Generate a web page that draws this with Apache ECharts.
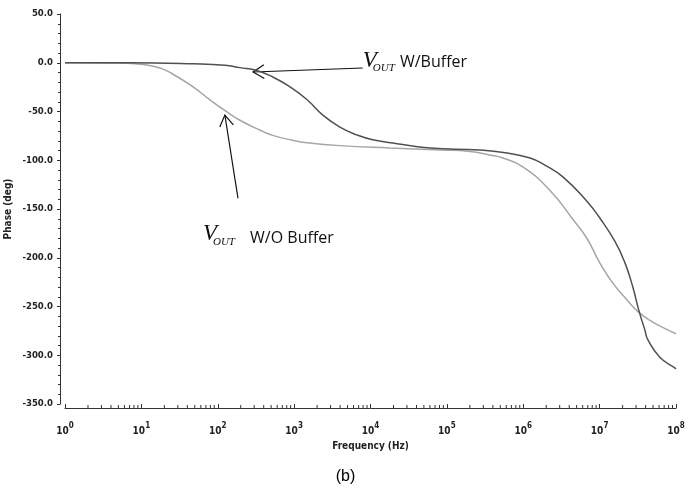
<!DOCTYPE html>
<html>
<head>
<meta charset="utf-8">
<script src="https://cdn.jsdelivr.net/npm/echarts@6/dist/echarts.min.js"></script>
<style>
html,body{margin:0;padding:0;background:#fff;}
#chart{width:691px;height:490px;}
</style>
</head>
<body>
<div id="chart"></div>
<script>
// Frequency (Hz) and phase (deg) samples
const bufFreq = [1, 6.5, 48, 124, 195, 309, 525, 890, 1480, 2400, 3980, 6610, 10700, 22200, 60000, 269000, 616000, 1.23e6, 1.92e6, 3.3e6, 6.8e6, 1.0e7, 1.58e7, 2.14e7, 2.72e7, 3.26e7, 3.91e7, 4.28e7, 6.14e7, 9.64e7, 1e8];
const bufPhase = [0, 0, -1, -2.5, -5, -7.5, -14.6, -25, -38, -54, -66, -74, -79, -83, -87.5, -89.5, -92.6, -97.7, -105, -117, -142, -159, -183, -205, -230, -254, -274, -284, -302, -313, -314];

const noBufFreq = [1, 6.5, 10.5, 17.5, 25, 48, 79, 132, 195, 355, 525, 955, 1480, 3980, 17800, 81000, 200000, 363000, 540000, 1e6, 2.24e6, 4.5e6, 6.8e6, 1.0e7, 1.49e7, 2.27e7, 3.26e7, 4.97e7, 7.81e7, 1e8];
const noBufPhase = [0, -0.5, -1.8, -5.4, -11, -25, -38, -50.5, -59, -69, -74.5, -79.5, -82, -85, -87.5, -89.5, -91, -94.6, -97.7, -107, -131, -161, -180, -205, -226, -243, -256, -266, -274, -278];

const yTicks = [50, 0, -50, -100, -150, -200, -250, -300, -350];
const xDecades = [0, 1, 2, 3, 4, 5, 6, 7, 8];

// annotation anchors in data coordinates [freq, phase]
const arrowBuf = { tail: [7900, -5.4], tip: [290, -9.5] };
const arrowNoBuf = { tail: [184, -139], tip: [124, -53.6] };
const labelBuf = { v: [7940, 2.3], text: [24300, 0.5], str: 'W/Buffer' };
const labelNoBuf = { v: [64, -175.6], text: [265, -180], str: 'W/O Buffer' };

const zip = (a, b) => a.map((v, i) => [v, b[i]]);

// minor log ticks 2..9 per decade
const minorTicks = [];
for (let d = 0; d < 8; d++) {
  for (let m = 2; m <= 9; m++) minorTicks.push([m * Math.pow(10, d)]);
}

const FONT = '"Liberation Sans Narrow", "DejaVu Sans Condensed", "Liberation Sans", Arial, sans-serif';
const AXIS_COLOR = '#333';

const chart = echarts.init(document.getElementById('chart'));
chart.setOption({
  animation: false,
  backgroundColor: '#fff',
  title: {
    text: '(b)',
    left: 'center',
    top: 464,
    textStyle: { fontFamily: '"Liberation Sans", Arial, sans-serif', fontSize: 16, fontWeight: 'normal', color: '#000' }
  },
  grid: { left: 65, right: 15, top: 14, bottom: 86, containLabel: false, outerBoundsMode: 'none' },
  xAxis: {
    type: 'log',
    logBase: 10,
    min: 1,
    max: 1e8,
    splitNumber: 8,
    offset: 4,
    name: 'Frequency (Hz)',
    nameLocation: 'middle',
    nameGap: 33,
    nameMoveOverlap: false,
    nameTextStyle: { fontFamily: FONT, fontSize: 10, fontWeight: 'bold', color: '#222' },
    axisLine: { show: true, onZero: false, lineStyle: { color: AXIS_COLOR, width: 1 } },
    axisTick: { show: true, inside: true, length: 4, lineStyle: { color: AXIS_COLOR } },
    splitLine: { show: false },
    axisLabel: {
      margin: 14,
      interval: 0,
      formatter: function (v) {
        const e = Math.round(Math.log10(v));
        return '{b|10}{s|' + e + '}';
      },
      rich: {
        b: { fontFamily: FONT, fontSize: 10, fontWeight: 'bold', color: '#222', verticalAlign: 'bottom', lineHeight: 14 },
        s: { fontFamily: FONT, fontSize: 8, fontWeight: 'bold', color: '#222', verticalAlign: 'top', lineHeight: 14, padding: [0, 0, 6, 0] }
      }
    }
  },
  yAxis: {
    type: 'value',
    min: -350,
    max: 50,
    interval: 50,
    offset: 5,
    name: 'Phase (deg)',
    nameLocation: 'middle',
    nameRotate: 90,
    nameGap: 47,
    nameMoveOverlap: false,
    nameTextStyle: { fontFamily: FONT, fontSize: 10, fontWeight: 'bold', color: '#222' },
    axisLine: { show: true, onZero: false, lineStyle: { color: AXIS_COLOR, width: 1 } },
    axisTick: { show: true, inside: false, length: 3, lineStyle: { color: AXIS_COLOR } },
    minorTick: { show: true, splitNumber: 5, length: 2, lineStyle: { color: AXIS_COLOR } },
    splitLine: { show: false },
    axisLabel: {
      margin: 7,
      fontFamily: FONT,
      fontSize: 9.5,
      fontWeight: 'bold',
      color: '#222',
      formatter: v => v.toFixed(1)
    }
  },
  series: [
    {
      name: 'V_OUT W/Buffer',
      type: 'line',
      data: zip(bufFreq, bufPhase),
      smooth: true,
      showSymbol: false,
      lineStyle: { color: '#505050', width: 1.5 },
      z: 3
    },
    {
      name: 'V_OUT W/O Buffer',
      type: 'line',
      data: zip(noBufFreq, noBufPhase),
      smooth: true,
      showSymbol: false,
      lineStyle: { color: '#a6a6a6', width: 1.5 },
      z: 2
    },
    {
      name: 'minorTicks',
      type: 'custom',
      silent: true,
      clip: false,
      data: minorTicks,
      encode: { x: 0 },
      renderItem: function (params, api) {
        const p = api.coord([api.value(0), -350]);
        const y0 = p[1] + 4;
        return {
          type: 'line',
          shape: { x1: p[0], y1: y0, x2: p[0], y2: y0 - 3 },
          style: { stroke: AXIS_COLOR, lineWidth: 1 }
        };
      }
    }
  ]
});

function px(pt) { return chart.convertToPixel({ gridIndex: 0 }, pt); }

function arrow(a) {
  const t = px(a.tail), h = px(a.tip);
  const dx = t[0] - h[0], dy = t[1] - h[1];
  const L = Math.hypot(dx, dy), ux = dx / L, uy = dy / L;
  const len = 13, ang = 32 * Math.PI / 180;
  const c = Math.cos(ang), s = Math.sin(ang);
  const a1 = [h[0] + len * (ux * c - uy * s), h[1] + len * (uy * c + ux * s)];
  const a2 = [h[0] + len * (ux * c + uy * s), h[1] + len * (uy * c - ux * s)];
  return [
    { type: 'line', shape: { x1: t[0], y1: t[1], x2: h[0], y2: h[1] }, style: { stroke: '#111', lineWidth: 1.2 } },
    { type: 'polyline', shape: { points: [a1, h, a2] }, style: { stroke: '#111', lineWidth: 1.2, fill: null } }
  ];
}

const SERIF = '"Liberation Serif", "DejaVu Serif", serif';
function label(l) {
  const v = px(l.v), t = px(l.text);
  return [
    {
      type: 'text', x: v[0], y: v[1],
      style: { text: 'V', verticalAlign: 'middle', fontFamily: SERIF, fontStyle: 'italic', fontSize: 23, fill: '#111' }
    },
    {
      type: 'text', x: v[0] + 10, y: v[1] + 8,
      style: { text: 'OUT', verticalAlign: 'middle', fontFamily: SERIF, fontStyle: 'italic', fontSize: 11, fill: '#111' }
    },
    {
      type: 'text', x: t[0], y: t[1],
      style: { text: l.str, verticalAlign: 'middle', fontFamily: '"Open Sans", "Noto Sans", sans-serif', fontSize: 16, fill: '#111' }
    }
  ];
}

chart.setOption({
  graphic: [].concat(arrow(arrowBuf), arrow(arrowNoBuf), label(labelBuf), label(labelNoBuf))
});
</script>
</body>
</html>
